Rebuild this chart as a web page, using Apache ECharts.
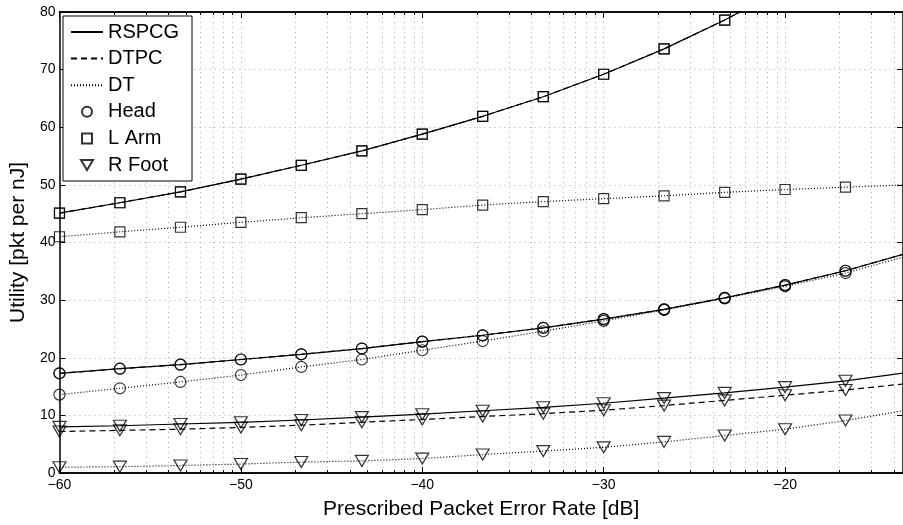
<!DOCTYPE html>
<html>
<head>
<meta charset="utf-8">
<script src="https://cdn.jsdelivr.net/npm/echarts@6/dist/echarts.min.js"></script>
<style>
html, body { margin: 0; padding: 0; background: #fff; }
#chart { width: 903px; height: 525px; }
</style>
</head>
<body>
<div id="chart"></div>
<script>
// prescribed packet error rate [dB], marker positions (last one only extends the lines)
let per = [-60, -56.67, -53.33, -50, -46.67, -43.33, -40, -36.67, -33.33, -30, -26.67, -23.33, -20, -16.67, -13.33];

// utility [pkt per nJ]
let headRspcg = [17.3, 18.1, 18.8, 19.7, 20.6, 21.6, 22.8, 23.9, 25.2, 26.7, 28.4, 30.4, 32.6, 35.1, 38.1];
let headDtpc = [17.3, 18.1, 18.8, 19.7, 20.6, 21.6, 22.8, 23.9, 25.2, 26.7, 28.4, 30.4, 32.6, 35.1, 38.1];
let headDt = [13.6, 14.7, 15.8, 17.0, 18.4, 19.7, 21.3, 22.9, 24.6, 26.4, 28.3, 30.3, 32.4, 34.7, 37.6];

let armRspcg = [45.1, 46.9, 48.8, 51.0, 53.4, 55.9, 58.8, 61.9, 65.3, 69.2, 73.6, 78.6, 84.2, 90.5, 97.5];
let armDtpc = [45.1, 46.9, 48.8, 51.0, 53.4, 55.9, 58.8, 61.9, 65.3, 69.2, 73.6, 78.6, 84.2, 90.5, 97.5];
let armDt = [41.0, 41.85, 42.65, 43.5, 44.3, 45.0, 45.7, 46.5, 47.1, 47.6, 48.1, 48.7, 49.2, 49.6, 50.0];

let footRspcg = [8.0, 8.2, 8.5, 8.8, 9.2, 9.7, 10.2, 10.8, 11.4, 12.1, 13.0, 13.9, 14.9, 16.0, 17.4];
let footDtpc = [7.2, 7.4, 7.6, 7.9, 8.3, 8.8, 9.3, 9.8, 10.3, 10.9, 11.7, 12.6, 13.5, 14.4, 15.5];
let footDt = [1.0, 1.1, 1.3, 1.55, 1.9, 2.1, 2.5, 3.2, 3.8, 4.45, 5.4, 6.5, 7.6, 9.1, 10.9];

let xTicks = [-60, -50, -40, -30, -20];
let yTicks = [0, 10, 20, 30, 40, 50, 60, 70, 80];

let xMin = -60;
let xMax = -13.5;
let fontFamily = 'Liberation Sans, Arial, sans-serif';
let gridColor = '#b0b0b0';
let gridDash = [1, 4];

// minor grid of the underlying log scale: 10*log10(k * 10^m)
let xMinor = [];
for (let m = -6; m <= -2; m++) {
    for (let k = 2; k <= 9; k++) {
        let v = 10 * m + 10 * Math.log10(k);
        if (v > xMin && v < xMax) xMinor.push(+v.toFixed(3));
    }
}

function pairs(ys) {
    return ys.map((y, i) => [per[i], y]);
}

function fmt(v) {
    return v < 0 ? '\u2212' + (-v) : String(v);
}

let axisLine = { lineStyle: { color: '#000', width: 1.5 } };

let xBase = {
    type: 'value',
    min: xMin,
    max: xMax,
    axisLine: axisLine,
    axisLabel: { show: false },
    splitLine: { show: false }
};

let lineSeries = function (name, ys, dash) {
    return {
        type: 'line',
        name: name,
        data: pairs(ys),
        symbol: 'none',
        clip: true,
        z: 3,
        lineStyle: { color: '#000', width: 1.2, type: dash },
        emphasis: { disabled: true }
    };
};

let markerSeries = function (name, symbol, size, rotate, lists) {
    let data = [];
    lists.forEach(ys => { data = data.concat(pairs(ys)); });
    return {
        type: 'scatter',
        name: name,
        data: data,
        symbol: symbol,
        symbolSize: size,
        symbolRotate: rotate,
        clip: true,
        z: 4,
        itemStyle: { color: 'rgba(0,0,0,0)', borderColor: '#000', borderWidth: 1.2 },
        emphasis: { disabled: true }
    };
};

// legend entries: lines without a dot, markers kept square
let noDot = { color: 'rgba(0,0,0,0)', borderWidth: 0 };

let option = {
    animation: false,
    color: ['#000'],
    grid: { left: 58, top: 12, width: 846, height: 462, containLabel: false },
    legend: {
        orient: 'vertical',
        left: 63,
        top: 16,
        padding: [6, 6, 6, 7],
        itemGap: 6.6,
        itemWidth: 32,
        itemHeight: 10,
        itemTextGap: 5,
        backgroundColor: '#fff',
        borderColor: '#000',
        borderWidth: 1,
        textStyle: { color: '#000', fontFamily: fontFamily, fontSize: 20, lineHeight: 20, width: 78 },
        data: [
            { name: 'RSPCG', itemStyle: noDot },
            { name: 'DTPC', itemStyle: noDot },
            { name: 'DT', itemStyle: noDot },
            { name: 'Head' },
            { name: 'L Arm', icon: 'path://M0,0 L9,0 L9,9 L0,9 Z' },
            { name: 'R Foot', icon: 'path://M0,0 L12,0 L6,10 Z', symbolRotate: 0 }
        ]
    },
    xAxis: [
        Object.assign({}, xBase, {
            position: 'bottom',
            interval: 10,
            name: 'Prescribed Packet Error Rate [dB]',
            nameLocation: 'middle',
            nameGap: 26,
            nameTextStyle: { color: '#000', fontFamily: fontFamily, fontSize: 21 },
            axisTick: { show: true, inside: true, length: 6, lineStyle: { color: '#000' } },
            axisLabel: { show: true, color: '#000', fontFamily: fontFamily, fontSize: 14, margin: 5, formatter: fmt, customValues: xTicks },
            splitLine: { show: true, lineStyle: { color: gridColor, width: 1, type: gridDash } }
        }),
        Object.assign({}, xBase, {
            position: 'bottom',
            axisTick: { show: true, inside: true, length: 3, customValues: xMinor, lineStyle: { color: '#000' } },
            splitLine: { show: true, lineStyle: { color: gridColor, width: 1, type: gridDash } }
        }),
        Object.assign({}, xBase, {
            position: 'top',
            interval: 10,
            axisTick: { show: true, inside: true, length: 6, lineStyle: { color: '#000' } }
        }),
        Object.assign({}, xBase, {
            position: 'top',
            axisTick: { show: true, inside: true, length: 3, customValues: xMinor, lineStyle: { color: '#000' } }
        })
    ],
    yAxis: [
        {
            type: 'value',
            position: 'left',
            min: 0,
            max: 80,
            interval: 10,
            name: 'Utility [pkt per nJ]',
            nameLocation: 'middle',
            nameGap: 27,
            nameTextStyle: { color: '#000', fontFamily: fontFamily, fontSize: 21 },
            axisLine: axisLine,
            axisTick: { show: true, inside: true, length: 6, lineStyle: { color: '#000' } },
            axisLabel: { color: '#000', fontFamily: fontFamily, fontSize: 14, margin: 4, customValues: yTicks },
            splitLine: { show: true, lineStyle: { color: gridColor, width: 1, type: gridDash } }
        },
        {
            type: 'value',
            position: 'right',
            min: 0,
            max: 80,
            interval: 10,
            axisLine: axisLine,
            axisTick: { show: true, inside: true, length: 6, lineStyle: { color: '#000' } },
            axisLabel: { show: false },
            splitLine: { show: false }
        }
    ],
    series: [
        lineSeries('RSPCG', headRspcg, 'solid'),
        lineSeries('RSPCG', armRspcg, 'solid'),
        lineSeries('RSPCG', footRspcg, 'solid'),
        lineSeries('DTPC', headDtpc, [6, 4]),
        lineSeries('DTPC', armDtpc, [6, 4]),
        lineSeries('DTPC', footDtpc, [6, 4]),
        lineSeries('DT', headDt, [1, 2]),
        lineSeries('DT', armDt, [1, 2]),
        lineSeries('DT', footDt, [1, 2]),
        markerSeries('Head', 'circle', 11, 0, [headRspcg, headDtpc, headDt]),
        markerSeries('L Arm', 'rect', 10, 0, [armRspcg, armDtpc, armDt]),
        markerSeries('R Foot', 'triangle', [13, 11], 180, [footRspcg, footDtpc, footDt])
    ]
};

let myChart = echarts.init(document.getElementById('chart'), null, { renderer: 'canvas' });
myChart.setOption(option);
</script>
</body>
</html>
